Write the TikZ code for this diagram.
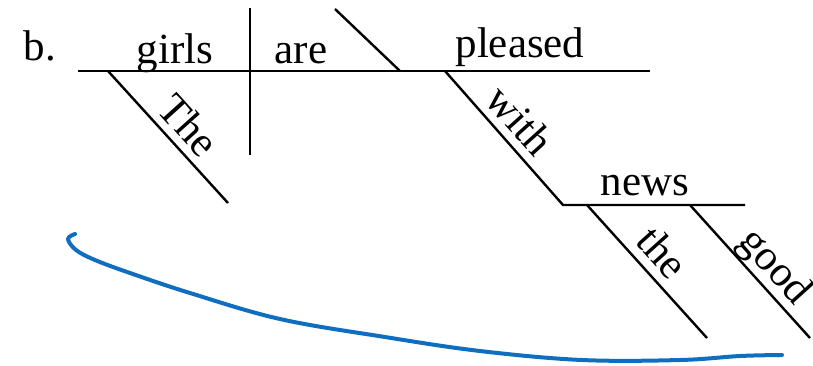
\documentclass[tikz,border=0pt]{standalone}
\usepackage{fontspec}
\setmainfont{Liberation Serif}
\definecolor{penblue}{RGB}{16,110,192}
\begin{document}
\begin{tikzpicture}[x=1pt, y=-1pt,
  rule/.style={solid, line width=2.4pt},
  word/.style={inner sep=0pt, font=\fontsize{43}{50}\selectfont},
  slant/.style={word, rotate=-48},
  pen/.style={penblue, line width=4pt, line cap=round, line join=round}]
\useasboundingbox (0,0) rectangle (813,365);
% base line: subject | verb \ complement
\coordinate (start) at (78,71);
\coordinate (end) at (650,71);
\coordinate (divtop) at (250,8);
\coordinate (divbot) at (250,155);
\coordinate (comptop) at (335,9);
\coordinate (compbot) at (400,71);
\draw [rule] (start) -- (end);
\draw [rule] (divtop) -- (divbot);
\draw [rule] (comptop) -- (compbot);
% modifiers
\coordinate (the1) at (108,71);
\coordinate (the2) at (228,203);
\coordinate (with1) at (445,71);
\coordinate (with2) at (563,205);
\coordinate (news2) at (745,205);
\coordinate (art1) at (587,205);
\coordinate (art2) at (707,338);
\coordinate (good1) at (690,205);
\coordinate (good2) at (810,338);
\draw [rule] (the1) -- (the2);
\draw [rule] (with1) -- (with2) -- (news2);
\draw [rule] (art1) -- (art2);
\draw [rule] (good1) -- (good2);

  \node (label) [word, anchor=base] at (40,60) {b.};
  \node (girls) [word, anchor=base] at (175,63) {girls};
  \node (are) [word, anchor=base] at (301,63) {are};
  \node (pleased) [word, anchor=base] at (520,57) {pleased};
  \node (news) [word, anchor=base] at (645,195) {news};
  \node (The) [slant] at (189,125) {The};
  \node (with) [slant] at (520,120) {with};
  \node (the) [slant] at (663,252) {the};
  \node (good) [slant] at (774,268) {good};
% pen stroke underneath
\draw [pen] plot [smooth, tension=0.6] coordinates {(75,234) (68,239) (76,250) (95,260) (130,273) (190,293) (280,319) (385,337) (480,351) (582,360) (680,360) (740,356) (782,355)};
\end{tikzpicture}
\end{document}
